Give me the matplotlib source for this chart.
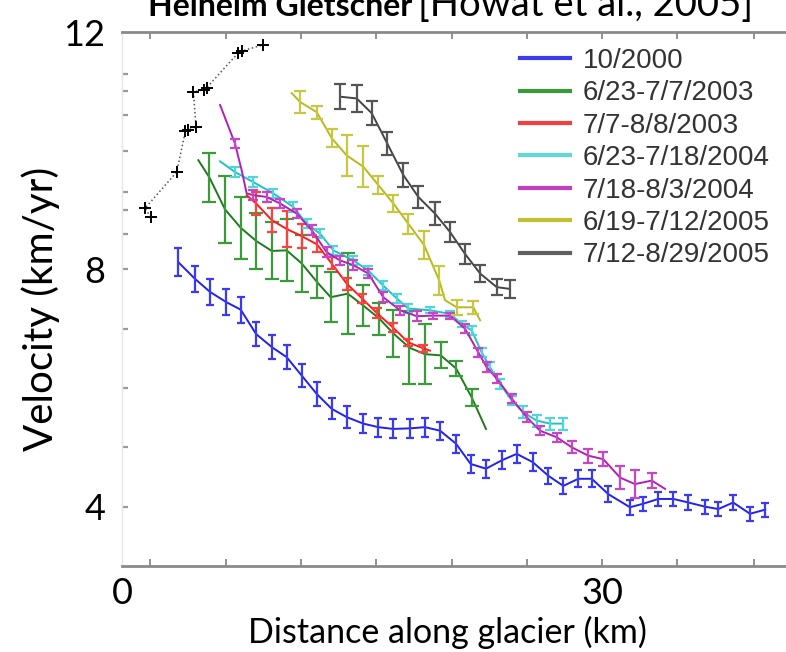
import numpy as np
import matplotlib
matplotlib.use("Agg")
import matplotlib.pyplot as plt
from matplotlib.lines import Line2D

# distance along glacier (km), velocity (km/yr), half error bar (km/yr); err 0 = no bar
early_x = [1.79, 1.44, 3.42, 3.96, 4.15, 4.63, 4.46, 5.13, 5.29, 7.27, 7.48, 8.79]
early_v = [8.88, 9.03, 9.64, 10.33, 10.35, 10.40, 10.99, 11.03, 11.06, 11.65, 11.68, 11.78]

blue_x = [3.52, 4.56, 5.5, 6.5, 7.42, 8.38, 9.36, 10.29, 11.23, 12.17, 13.1, 14.04, 15.08,
          16.02, 16.96, 18.0, 18.94, 19.88, 20.88, 21.79, 22.75, 23.73, 24.67, 25.67, 26.65,
          27.58, 28.52, 29.36, 30.4, 31.75, 32.58, 33.52, 34.46, 35.4, 36.44, 37.27, 38.2,
          39.25, 40.2]
blue_v = [8.12, 7.84, 7.62, 7.45, 7.32, 6.91, 6.69, 6.52, 6.21, 5.90, 5.65, 5.51, 5.40,
          5.34, 5.31, 5.32, 5.34, 5.28, 5.06, 4.72, 4.64, 4.78, 4.89, 4.75, 4.52,
          4.35, 4.47, 4.47, 4.21, 3.99, 4.05, 4.13, 4.13, 4.07, 4.00, 3.96, 4.07,
          3.88, 3.95]
blue_err = [0.24, 0.22, 0.22, 0.22, 0.22, 0.2, 0.2, 0.2, 0.2, 0.2, 0.18, 0.18, 0.16,
            0.16, 0.16, 0.16, 0.16, 0.15, 0.15, 0.15, 0.15, 0.15, 0.15, 0.15, 0.14,
            0.14, 0.14, 0.14, 0.13, 0.13, 0.12, 0.12, 0.12, 0.12, 0.12, 0.12, 0.12,
            0.12, 0.12]

green_x = [4.77, 5.46, 6.44, 7.42, 8.38, 9.36, 10.29, 11.23, 12.21, 13.04, 14.11, 15.08,
           16.08, 16.96, 17.96, 18.94, 19.92, 20.88, 21.86, 22.75]
green_v = [9.84, 9.55, 9.01, 8.70, 8.48, 8.31, 8.32, 8.10, 7.78, 7.53, 7.59, 7.39,
           7.17, 6.92, 6.68, 6.57, 6.55, 6.33, 5.84, 5.31]
green_err = [0, 0.41, 0.57, 0.52, 0.47, 0.48, 0.52, 0.48, 0.27, 0.42, 0.68, 0.35,
             0.27, 0.39, 0.61, 0.51, 0.22, 0.12, 0.15, 0]

red_x = [7.79, 8.38, 9.36, 10.29, 11.23, 12.19, 13.1, 14.04, 15.0, 15.94, 16.94, 17.88,
         18.81, 19.25]
red_v = [9.25, 9.11, 8.83, 8.68, 8.56, 8.42, 8.10, 7.76, 7.51, 7.26, 7.02, 6.77,
         6.67, 6.63]
red_err = [0, 0.2, 0.2, 0.3, 0.2, 0.12, 0.1, 0.1, 0.08, 0.08, 0.08, 0.06, 0.06, 0]

cyan_x = [6.13, 7.06, 8.21, 9.46, 10.71, 11.54, 12.38, 13.21, 14.46, 15.39, 16.31, 17.17,
          17.89, 19.25, 20.5, 21.23, 21.86, 22.48, 23.0, 23.63, 24.36, 25.08, 25.92,
          26.75, 27.58]
cyan_v = [9.82, 9.64, 9.47, 9.28, 9.05, 8.77, 8.60, 8.32, 8.15, 7.98, 7.73, 7.51,
          7.34, 7.31, 7.25, 7.08, 6.97, 6.60, 6.35, 6.07, 5.79, 5.59, 5.45,
          5.40, 5.40]
cyan_err = [0, 0.08, 0.08, 0.08, 0.08, 0.08, 0.08, 0.08, 0.08, 0.08, 0.08, 0.08,
            0.08, 0.05, 0.05, 0.05, 0.08, 0.08, 0.08, 0.08, 0.08, 0.1, 0.1,
            0.1, 0.1]

magenta_x = [6.13, 7.06, 7.48, 7.79, 8.21, 9.04, 9.88, 10.92, 11.86, 12.79, 13.63, 14.46,
             15.39, 16.33, 17.38, 18.42, 19.46, 20.5, 21.44, 22.27, 22.79, 23.42, 24.36,
             25.29, 26.13, 27.17, 28.11, 29.14, 30.08, 31.13, 32.06, 33.11, 33.94]
magenta_v = [10.77, 10.12, 9.67, 9.28, 9.25, 9.22, 9.11, 8.94, 8.66, 8.29, 8.15, 8.07,
             7.93, 7.53, 7.31, 7.21, 7.22, 7.22, 7.00, 6.60, 6.35, 6.16, 5.82,
             5.51, 5.28, 5.17, 5.00, 4.86, 4.80, 4.49, 4.38, 4.44, 4.30]
magenta_err = [0, 0.08, 0, 0, 0.08, 0.08, 0.08, 0.08, 0.08, 0.08, 0.08, 0.08,
               0.08, 0.08, 0.08, 0.08, 0.05, 0.05, 0.08, 0.08, 0.08, 0.08, 0.08,
               0.08, 0.08, 0.08, 0.1, 0.12, 0.12, 0.2, 0.24, 0.12, 0]

yellow_x = [10.61, 11.13, 12.17, 13.11, 14.04, 15.08, 16.02, 16.96, 17.89, 18.88, 19.83,
            20.19, 20.92, 21.96, 22.38]
yellow_v = [10.97, 10.82, 10.65, 10.21, 9.92, 9.73, 9.42, 9.11, 8.77, 8.41, 7.81,
            7.48, 7.36, 7.36, 7.14]
yellow_err = [0, 0.19, 0.11, 0.15, 0.34, 0.35, 0.15, 0.14, 0.17, 0.24, 0.25,
              0, 0.13, 0.11, 0]

gray_x = [13.63, 14.67, 15.61, 16.58, 17.58, 18.52, 19.56, 20.5, 21.44, 22.38, 23.42, 24.25]
gray_v = [10.91, 10.88, 10.63, 10.12, 9.59, 9.22, 8.94, 8.63, 8.26, 7.93, 7.70, 7.67]
gray_err = [0.21, 0.22, 0.2, 0.2, 0.2, 0.19, 0.19, 0.17, 0.17, 0.14, 0.13, 0.15]

labels = ['10/2000', '6/23-7/7/2003', '7/7-8/8/2003', '6/23-7/18/2004',
          '7/18-8/3/2004', '6/19-7/12/2005', '7/12-8/29/2005']

x_tick_marks = [1.75, 6.47, 11.2, 15.9, 20.6, 25.3, 30.0, 34.7, 39.5]
y_tick_marks = [4, 5, 6, 7, 8, 8.6, 9, 9.3, 10, 10.6, 11, 11.3]

series = [
    (blue_x, blue_v, blue_err, '#2020f0', '#3a3af5', 3.2),
    (green_x, green_v, green_err, '#1e7a1e', '#3b9b3b', 5),
    (red_x, red_v, red_err, '#ff1a1a', '#ff4040', 3.5),
    (cyan_x, cyan_v, cyan_err, '#20c0c8', '#50d5d8', 3.5),
    (magenta_x, magenta_v, magenta_err, '#b020b8', '#c845c8', 3.5),
    (yellow_x, yellow_v, yellow_err, '#b8b820', '#c8c840', 4.5),
    (gray_x, gray_v, gray_err, '#444444', '#555555', 4.5),
]
legend_colors = ['#3b3bf0', '#3a9a3a', '#f04040', '#60d8d8', '#c040c0', '#c0c030', '#606060']

fig = plt.figure(figsize=(7.86, 6.52), dpi=100)
ax = fig.add_axes([122 / 786, 86 / 652, 664 / 786, 534 / 652])

ax.plot(early_x, early_v, ':', color='#555555', lw=1.1, marker='+', ms=9,
        mec='black', mew=1.4)

for xs, vs, errs, lc, ec, cap in series:
    xs = np.array(xs)
    vs = np.array(vs)
    errs = np.array(errs)
    ax.plot(xs, vs, color=lc, lw=1.4)
    m = errs > 0
    ax.errorbar(xs[m], vs[m], yerr=errs[m], fmt='none', ecolor=ec, elinewidth=1.6,
                capsize=cap, capthick=1.6)

ax.set_xlim(0, 41.5)
ax.set_ylim(3.0, 12.0)

ax.xaxis.remove_overlapping_locs = False
ax.yaxis.remove_overlapping_locs = False
ax.set_xticks([0, 30])
ax.set_xticklabels(['0', '30'])
ax.set_xticks(x_tick_marks, minor=True)
ax.set_yticks([4, 8, 12])
ax.set_yticklabels(['4', '8', '12'])
ax.set_yticks(y_tick_marks, minor=True)

for t in ax.get_xticklabels() + ax.get_yticklabels():
    t.set_fontfamily('Lato')
    t.set_fontsize(26)
ax.tick_params(which='major', length=0)
ax.tick_params(axis='x', which='major', pad=8)
ax.tick_params(axis='y', which='major', pad=12)
ax.tick_params(axis='x', which='minor', direction='in', top=True, bottom=True,
               length=5, width=1.3, color='#888888')
ax.tick_params(axis='y', which='minor', direction='in', left=True, length=4,
               width=1.6, color='#999999')

for s in ['top', 'bottom']:
    ax.spines[s].set_color('#8a8a8a')
    ax.spines[s].set_linewidth(2)
ax.spines['left'].set_color('#e6e6e6')
ax.spines['left'].set_linewidth(1)
ax.spines['right'].set_visible(False)

ax.set_xlabel('Distance along glacier (km)', family='Lato', fontsize=24.5)
ax.xaxis.set_label_coords((447 - 122) / 664, (652 - 616 - 86) / 534)
ax.set_ylabel('Velocity (km/yr)', family='Lato', fontsize=29)
ax.yaxis.set_label_coords((60 - 122) / 664, (652 - 309 - 86) / 534)

fig.text(148 / 786, 1 - 16 / 652, 'Helheim Gletscher', family='Lato', fontweight='bold',
         fontsize=23, ha='left', va='baseline')
fig.text(418 / 786, 1 - 16 / 652, '[Howat et al., 2005]', family='Lato',
         fontsize=27.5, ha='left', va='baseline')

handles = [Line2D([], [], color=c, lw=3) for c in legend_colors]
leg = fig.legend(handles, labels, loc='upper left',
                 bbox_to_anchor=(520 / 786, 1 - 48 / 652), frameon=False,
                 prop=dict(family='Liberation Sans', size=20), labelspacing=0.23,
                 handlelength=1.8, handletextpad=0.45, borderpad=0, borderaxespad=0)
for t in leg.get_texts():
    t.set_color('#333333')

fig.savefig('out.png', dpi=100)
